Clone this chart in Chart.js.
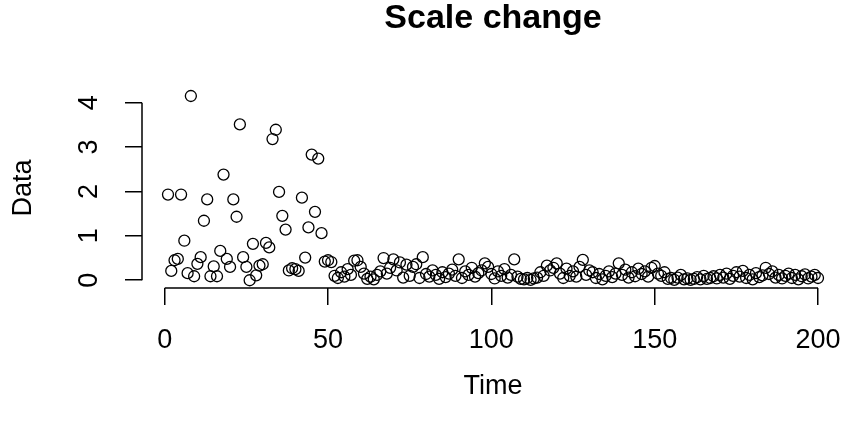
<!DOCTYPE html>
<html>
<head>
<meta charset="utf-8">
<title>Scale change</title>
<script src="https://cdn.jsdelivr.net/npm/chart.js@4.4.1/dist/chart.umd.min.js"></script>
<style>
  html, body { margin: 0; padding: 0; background: #fff; }
</style>
</head>
<body>
<canvas id="scaleChart" width="846" height="427"></canvas>
<script>
// values, one per time step 1..200
const dataValues = [
  1.93, 0.21, 0.45, 0.48, 1.93, 0.89, 0.16, 4.15, 0.09, 0.37,
  0.52, 1.34, 1.82, 0.09, 0.31, 0.09, 0.66, 2.38, 0.48, 0.30,
  1.82, 1.43, 3.51, 0.52, 0.30, 0.00, 0.82, 0.11, 0.33, 0.36,
  0.84, 0.74, 3.18, 3.39, 1.99, 1.45, 1.14, 0.22, 0.27, 0.25,
  0.21, 1.86, 0.51, 1.19, 2.83, 1.54, 2.74, 1.06, 0.42, 0.45,
  0.41, 0.10, 0.05, 0.18, 0.08, 0.25, 0.12, 0.44, 0.45, 0.30,
  0.15, 0.03, 0.08, 0.02, 0.12, 0.20, 0.50, 0.15, 0.28, 0.47,
  0.22, 0.40, 0.06, 0.35, 0.10, 0.30, 0.36, 0.05, 0.52, 0.14,
  0.08, 0.22, 0.12, 0.03, 0.18, 0.07, 0.15, 0.24, 0.10, 0.47,
  0.05, 0.20, 0.12, 0.28, 0.08, 0.16, 0.22, 0.38, 0.30, 0.14,
  0.04, 0.20, 0.10, 0.25, 0.06, 0.12, 0.47, 0.08, 0.03, 0.02,
  0.05, 0.01, 0.04, 0.06, 0.18, 0.10, 0.33, 0.22, 0.28, 0.38,
  0.15, 0.05, 0.26, 0.10, 0.20, 0.08, 0.30, 0.46, 0.12, 0.22,
  0.18, 0.05, 0.14, 0.02, 0.10, 0.20, 0.07, 0.15, 0.38, 0.12,
  0.24, 0.06, 0.18, 0.09, 0.26, 0.14, 0.20, 0.08, 0.28, 0.32,
  0.15, 0.10, 0.18, 0.03, 0.05, 0.01, 0.06, 0.12, 0.02, 0.04,
  0.01, 0.03, 0.07, 0.02, 0.10, 0.03, 0.05, 0.09, 0.04, 0.12,
  0.06, 0.15, 0.03, 0.10, 0.18, 0.08, 0.21, 0.05, 0.12, 0.02,
  0.16, 0.07, 0.11, 0.28, 0.14, 0.20, 0.06, 0.12, 0.04, 0.10,
  0.15, 0.05, 0.12, 0.02, 0.09, 0.13, 0.04, 0.08, 0.12, 0.05
];
const xTicks = [0, 50, 100, 150, 200];
const yTicks = [0, 1, 2, 3, 4];

const chartTitle = "Scale change";
const xLabel = "Time";
const yLabel = "Data";

const FONT = "'Liberation Sans', Arial, Helvetica, sans-serif";
const AXIS_SIZE = 27;

// x is just the time index
const points = dataValues.map((v, i) => ({ x: i + 1, y: v }));

/* =========================================
   R-style axes: line only spans first..last tick,
   y tick labels are turned sideways
========================================= */
const rAxisPlugin = {
  id: "rAxis",
  afterDraw(chart) {
    const { ctx, chartArea, scales } = chart;
    const xs = scales.x;
    const ys = scales.y;

    ctx.save();
    ctx.strokeStyle = "#000";
    ctx.lineWidth = 1.5;
    ctx.beginPath();
    ctx.moveTo(xs.getPixelForValue(xTicks[0]), chartArea.bottom);
    ctx.lineTo(xs.getPixelForValue(xTicks[xTicks.length - 1]), chartArea.bottom);
    ctx.moveTo(chartArea.left, ys.getPixelForValue(yTicks[0]));
    ctx.lineTo(chartArea.left, ys.getPixelForValue(yTicks[yTicks.length - 1]));
    ctx.stroke();

    ctx.fillStyle = "#000";
    ctx.font = AXIS_SIZE + "px " + FONT;
    ctx.textAlign = "center";
    ctx.textBaseline = "middle";
    yTicks.forEach(v => {
      ctx.save();
      ctx.translate(chartArea.left - 52, ys.getPixelForValue(v));
      ctx.rotate(-Math.PI / 2);
      ctx.fillText(String(v), 0, 0);
      ctx.restore();
    });
    ctx.restore();
  }
};

new Chart(document.getElementById("scaleChart"), {
  type: "scatter",
  data: {
    datasets: [
      {
        data: points,
        pointStyle: "circle",
        pointRadius: 5.5,
        pointHoverRadius: 5.5,
        pointBorderWidth: 1.3,
        pointBorderColor: "#000",
        pointBackgroundColor: "rgba(0,0,0,0)"
      }
    ]
  },
  options: {
    responsive: false,
    animation: false,
    devicePixelRatio: 1,
    events: [],
    layout: {
      autoPadding: false,
      padding: { left: 0, right: 2, top: 0, bottom: 0 }
    },
    scales: {
      x: {
        type: "linear",
        min: -6.96,
        max: 207.96,
        afterBuildTicks: s => { s.ticks = xTicks.map(v => ({ value: v })); },
        afterFit: s => {
          s.height = 139;
          s.paddingLeft = 0;
          s.paddingRight = 0;
        },
        grid: {
          drawOnChartArea: false,
          drawTicks: true,
          tickLength: 17,
          color: "#000",
          lineWidth: 1.5
        },
        border: { display: false },
        ticks: {
          color: "#000",
          font: { family: FONT, size: AXIS_SIZE },
          padding: 19,
          maxRotation: 0,
          autoSkip: false
        },
        title: {
          display: true,
          text: xLabel,
          color: "#000",
          font: { family: FONT, size: AXIS_SIZE },
          padding: { top: 0, bottom: 24 }
        }
      },
      y: {
        type: "linear",
        min: -0.175,
        max: 4.33,
        afterBuildTicks: s => { s.ticks = yTicks.map(v => ({ value: v })); },
        afterFit: s => {
          s.width = 142;
          s.paddingTop = 0;
          s.paddingBottom = 0;
        },
        grid: {
          drawOnChartArea: false,
          drawTicks: true,
          tickLength: 17,
          color: "#000",
          lineWidth: 1.5
        },
        border: { display: false },
        ticks: { display: false },
        title: {
          display: true,
          text: yLabel,
          color: "#000",
          font: { family: FONT, size: AXIS_SIZE },
          padding: { top: 7, bottom: 0 }
        }
      }
    },
    plugins: {
      legend: { display: false },
      tooltip: { enabled: false },
      title: {
        display: true,
        text: chartTitle,
        color: "#000",
        fullSize: false,
        font: { family: FONT, size: 34, weight: "bold", lineHeight: 1 },
        padding: { top: 2, bottom: 52 }
      }
    }
  },
  plugins: [rAxisPlugin]
});
</script>
</body>
</html>
